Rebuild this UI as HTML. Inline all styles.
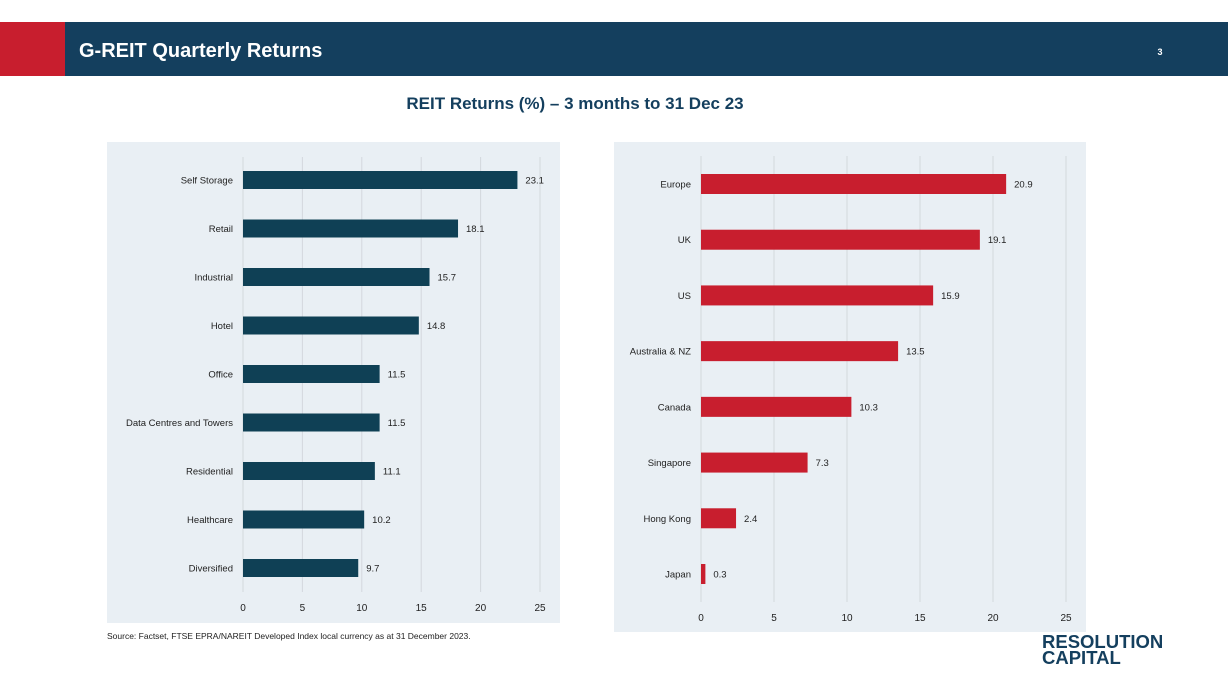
<!DOCTYPE html>
<html><head><meta charset="utf-8"><style>
body{margin:0;width:1231px;height:696px;background:#fff;overflow:hidden;font-family:"Liberation Sans",sans-serif}
svg{position:absolute;left:0;top:0}
</style></head><body>
<svg id="s" width="1231" height="696">
<rect x="0" y="22" width="65" height="54" fill="#c81e2e"/>
<rect x="65" y="22" width="1163" height="54" fill="#143f5e"/>
<text x="79" y="57" fill="#fff" font-size="20" font-weight="bold">G-REIT Quarterly Returns</text>
<text x="1160" y="55" fill="#fff" font-size="9" font-weight="bold" text-anchor="middle">3</text>
<text x="575" y="109" fill="#143f5e" font-size="17" font-weight="bold" text-anchor="middle">REIT Returns (%) – 3 months to 31 Dec 23</text>
<rect x="107" y="142" width="453" height="481" fill="#e9eff4"/>
<rect x="614" y="142" width="472" height="490" fill="#e9eff4"/>
<g id="left"></g><g id="right"></g>
<text x="107" y="639" fill="#222" font-size="8.5">Source: Factset, FTSE EPRA/NAREIT Developed Index local currency as at 31 December 2023.</text>
<text x="1042" y="648" fill="#143f5e" font-size="18.5" font-weight="bold">RESOLUTION</text>
<text x="1042" y="664" fill="#143f5e" font-size="18.5" font-weight="bold">CAPITAL</text>
</svg>
<script>
const sectorCats=["Self Storage","Retail","Industrial","Hotel","Office","Data Centres and Towers","Residential","Healthcare","Diversified"];
const sectorVals=[23.1,18.1,15.7,14.8,11.5,11.5,11.1,10.2,9.7];
const regionCats=["Europe","UK","US","Australia & NZ","Canada","Singapore","Hong Kong","Japan"];
const regionVals=[20.9,19.1,15.9,13.5,10.3,7.3,2.4,0.3];
const ticks=[0,5,10,15,20,25];
const NS="http://www.w3.org/2000/svg";
function mk(g,tag,attrs){const e=document.createElementNS(NS,tag);for(const k in attrs)e.setAttribute(k,attrs[k]);g.appendChild(e);return e;}
function chart(gid,cats,vals,o){
  const g=document.getElementById(gid);
  const x=v=>o.x0+(o.x25-o.x0)*v/25;
  const y=i=>o.yFirst+(o.yLast-o.yFirst)*i/(cats.length-1);
  ticks.forEach(t=>{
    const l=mk(g,'line',{x1:x(t),x2:x(t),y1:o.gTop,y2:o.gBot,stroke:'#d3d8dd','stroke-width':1});
    
    
    const tx=mk(g,'text',{x:x(t),y:o.tickY,'font-size':10,fill:'#222','text-anchor':'middle'});
    tx.textContent=t;
    
    
  });
  cats.forEach((c,i)=>{
    const cy=y(i);
    const r=mk(g,'rect',{x:x(0),y:cy-o.bh/2,width:Math.max(x(vals[i])-x(0),1),height:o.bh,fill:o.color});
    
    
    const lb=mk(g,'text',{x:x(0)-10,y:cy+3.5,'font-size':9.5,fill:'#222','text-anchor':'end'});
    lb.textContent=c;
    
    
    const vl=mk(g,'text',{x:x(vals[i])+8,y:cy+3.5,'font-size':9.5,fill:'#222'});
    vl.textContent=vals[i].toFixed(1);
    
    
  });
}
chart('left',sectorCats,sectorVals,{x0:243,x25:540,yFirst:180,yLast:568,bh:18,color:'#0f4055',gTop:157,gBot:592,tickY:611});
chart('right',regionCats,regionVals,{x0:701,x25:1066,yFirst:184,yLast:574,bh:20,color:'#c81e2e',gTop:156,gBot:602,tickY:621});
</script>
</body></html>
